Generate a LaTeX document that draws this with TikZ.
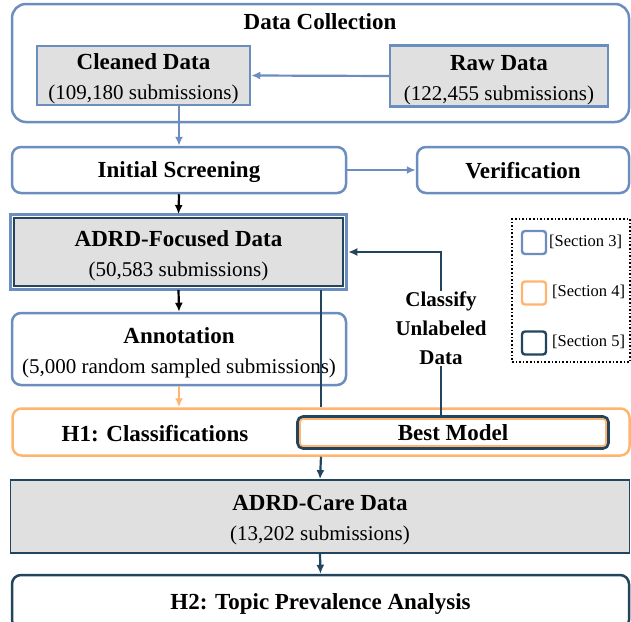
\documentclass[tikz,border=0pt]{standalone}
\usepackage{fontspec}
\setmainfont{Liberation Serif}
\usetikzlibrary{arrows.meta,calc}
\definecolor{SecBlue}{HTML}{6C8EBF}
\definecolor{SecOrange}{HTML}{FFB570}
\definecolor{SecNavy}{HTML}{23445D}
\definecolor{BoxGray}{HTML}{E0E0E0}
\newcommand{\hdfont}{\fontsize{23}{30}\selectfont\bfseries}
\newcommand{\txfont}{\fontsize{21}{30}\selectfont}
\newcommand{\topstrut}{\rule{0pt}{23pt}}
\tikzset{
  box/.style={draw,line width=2.5pt,inner sep=0pt,align=center,font=\txfont},
  grayfill/.style={box,fill=BoxGray},
  roundbox/.style={box,rounded corners=9pt},
  oneline/.style={font=\hdfont,text depth=0pt},
  flow/.style={line width=2.2pt,-{Latex[length=9pt,width=8pt]}},
  legsq/.style={draw,line width=2.4pt,rounded corners=3pt,minimum width=24pt,minimum height=23pt,inner sep=0pt},
}

\begin{document}
\begin{tikzpicture}[x=1pt,y=-1pt]
    \useasboundingbox (0,0) rectangle (631,621);
    % data collection
    \node[roundbox,SecBlue,rounded corners=14pt,minimum width=617pt,minimum height=118pt] (dcbox) at (320.5,63) {};
    \node[oneline] (dctitle) at (320,22) {Data Collection};
    \node[grayfill,draw=SecBlue,minimum width=213pt,minimum height=59pt] (clean) at (143.5,75.5)
      {\topstrut{\hdfont Cleaned Data}\\(109,180 submissions)};
    \node[grayfill,draw=SecBlue,minimum width=218pt,minimum height=61pt] (raw) at (499,76)
      {\topstrut{\hdfont Raw Data}\\(122,455 submissions)};
    % screening
    \node[roundbox,oneline,draw=SecBlue,minimum width=334pt,minimum height=46pt] (screen) at (179,170) {Initial Screening};
    \node[roundbox,oneline,draw=SecBlue,minimum width=212pt,minimum height=46pt] (verify) at (523,170) {Verification};
    % focused data
    \node[grayfill,draw=SecNavy,minimum width=329pt,minimum height=68pt] (focused) at (178.5,252)
      {\topstrut{\hdfont ADRD-Focused Data}\\(50,583 submissions)};
    \draw[SecBlue,line width=3pt] ([shift={(-2.7pt,2.7pt)}]focused.north west) rectangle ([shift={(2.7pt,-2.7pt)}]focused.south east);
    \node[roundbox,draw=SecBlue,minimum width=334pt,minimum height=72pt] (annot) at (179,349)
      {\topstrut{\hdfont Annotation}\\(5,000 random sampled submissions)};
    % classification
    \node[roundbox,draw=SecOrange,minimum width=617pt,minimum height=47pt] (h1) at (321,432) {};
    \node[oneline] (h1lbl) at (155,433) {H1: Classifications};
    \node[box,draw=SecNavy,line width=3.6pt,rounded corners=5pt,minimum width=310pt,minimum height=31pt] (best) at (453,432.5) {};
    \node[box,oneline,draw=SecOrange,line width=1.8pt,rounded corners=3pt,minimum width=306pt,minimum height=27pt] (bestin) at (453,432.5) {Best Model};
    \node[grayfill,draw=SecNavy,line width=1.8pt,minimum width=619pt,minimum height=73pt] (care) at (320,516.5)
      {\topstrut{\hdfont ADRD-Care Data}\\(13,202 submissions)};
    \node[roundbox,oneline,draw=SecNavy,minimum width=617pt,minimum height=54pt] (h2) at (320.5,602) {H2: Topic Prevalence Analysis};
    % legend
    \node[draw,dotted,line width=1.6pt,minimum width=118pt,minimum height=143pt] (legend) at (571,290.5) {};
    \node[legsq,SecBlue] (sq3) at (534,242.5) {};
    \node[legsq,SecOrange] (sq4) at (534,293) {};
    \node[legsq,SecNavy] (sq5) at (534,343) {};
    \node[anchor=west,inner sep=0pt,font=\fontsize{16.5}{20}\selectfont] (s3) at (549,242) {[Section 3]};
    \node[anchor=west,inner sep=0pt,font=\fontsize{16.5}{20}\selectfont] (s4) at (552,292) {[Section 4]};
    \node[anchor=west,inner sep=0pt,font=\fontsize{16.5}{20}\selectfont] (s5) at (552,342) {[Section 5]};
    % connectors
    \draw[flow,SecBlue] (raw.west) -- (clean.east);
    \draw[flow,SecBlue] (clean.south -| screen.north) -- (screen.north);
    \draw[flow,SecBlue] (screen.east) -- (verify.west);
    \draw[flow,black] (screen.south) -- ([yshift=2.7pt]focused.north);
    \draw[flow,black] ([yshift=-2.7pt]focused.south) -- (annot.north);
    \draw[flow,SecOrange] (annot.south) -- (annot.south |- h1.north);
    \draw[line width=2.2pt,SecNavy] ([yshift=-2.7pt]focused.south -| h1.north) -- (h1.north);
    \draw[flow,SecNavy] (h1.south) -- (care.north);
    \draw[flow,SecNavy] (care.south) -- (h2.north);
    \draw[flow,SecNavy] ($(best.north)+(-12,0)$) |- ([xshift=4pt]focused.east);
    \node[fill=white,align=center,inner sep=1pt,font=\fontsize{21}{29}\selectfont\bfseries] (classify) at (441,328)
      {Classify\\Unlabeled\\Data};
  \end{tikzpicture}
\end{document}
